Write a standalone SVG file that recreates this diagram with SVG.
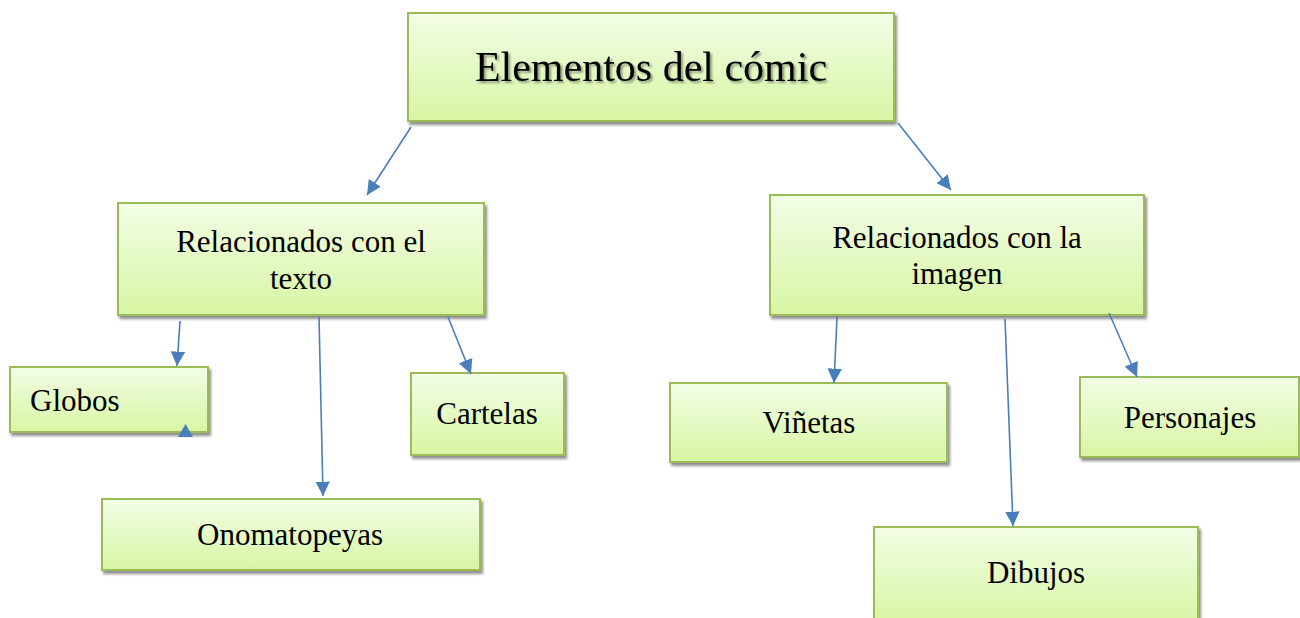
<svg xmlns="http://www.w3.org/2000/svg" width="1300" height="618" viewBox="0 0 1300 618">
<defs>
<linearGradient id="g" x1="0" y1="0" x2="0" y2="1">
<stop offset="0" stop-color="#f3fde6"/>
<stop offset="1" stop-color="#d7f6a3"/>
</linearGradient>
<filter id="sh" x="-5%" y="-5%" width="115%" height="130%">
<feGaussianBlur in="SourceAlpha" stdDeviation="1.5"/>
<feOffset dx="2" dy="3" result="b"/>
<feComponentTransfer><feFuncA type="linear" slope="0.45"/></feComponentTransfer>
<feMerge><feMergeNode/><feMergeNode in="SourceGraphic"/></feMerge>
</filter>
<filter id="ts" x="-5%" y="-20%" width="110%" height="140%">
<feGaussianBlur in="SourceAlpha" stdDeviation="1"/>
<feOffset dx="2" dy="2"/>
<feComponentTransfer><feFuncA type="linear" slope="0.4"/></feComponentTransfer>
<feMerge><feMergeNode/><feMergeNode in="SourceGraphic"/></feMerge>
</filter>
<marker id="ah" viewBox="0 0 10 10" refX="10" refY="5" markerWidth="9" markerHeight="9" markerUnits="strokeWidth" orient="auto">
<path d="M0,0 L10,5 L0,10 z" fill="#4a7ebb"/>
</marker>
</defs>
<style>
.box{fill:url(#g);stroke:#9bbb59;stroke-width:2;filter:url(#sh)}
.t{font-family:"Liberation Serif","Times New Roman","DejaVu Serif",serif;fill:#000;font-size:31px;text-anchor:middle}
.c{stroke:#4a7ebb;stroke-width:1.6;fill:none;marker-end:url(#ah)}
</style>
<rect width="1300" height="618" fill="#fff"/>
<g id="n-root">
<rect class="box" x="408" y="13" width="486" height="108"/>
<text class="t" x="651" y="81" style="font-size:42px" filter="url(#ts)">Elementos del cómic</text>
</g>
<g id="n-texto">
<rect class="box" x="118" y="203" width="366" height="112"/>
<text class="t" x="301" y="252">Relacionados con el</text>
<text class="t" x="301" y="289">texto</text>
</g>
<g id="n-imagen">
<rect class="box" x="770" y="195" width="374" height="120"/>
<text class="t" x="957" y="248">Relacionados con la</text>
<text class="t" x="957" y="284">imagen</text>
</g>
<g id="n-globos">
<rect class="box" x="10" y="367" width="198" height="65"/>
<text class="t" x="30" y="411" style="text-anchor:start">Globos</text>
</g>
<g id="n-cartelas">
<rect class="box" x="411" y="373" width="153" height="82"/>
<text class="t" x="487" y="424">Cartelas</text>
</g>
<g id="n-onomatopeyas">
<rect class="box" x="102" y="499" width="378" height="71"/>
<text class="t" x="290" y="545">Onomatopeyas</text>
</g>
<g id="n-vinetas">
<rect class="box" x="670" y="383" width="277" height="79"/>
<text class="t" x="809" y="433">Viñetas</text>
</g>
<g id="n-personajes">
<rect class="box" x="1080" y="377" width="219" height="80"/>
<text class="t" x="1190" y="428">Personajes</text>
</g>
<g id="n-dibujos">
<rect class="box" x="874" y="527" width="324" height="95"/>
<text class="t" x="1036" y="583">Dibujos</text>
</g>
<g id="connectors">
<line class="c" x1="411" y1="127" x2="367" y2="195"/>
<line class="c" x1="898" y1="123" x2="951" y2="190"/>
<line class="c" x1="180" y1="321" x2="177" y2="366"/>
<line class="c" x1="319" y1="317" x2="323" y2="496"/>
<line class="c" x1="448" y1="317" x2="471" y2="374"/>
<line class="c" x1="837" y1="317" x2="834" y2="383"/>
<line class="c" x1="1005" y1="319" x2="1013" y2="526"/>
<line class="c" x1="1109" y1="313" x2="1137" y2="377"/>
<path d="M178,437 L185.5,424 L193,437 z" fill="#4a7ebb"/>
</g>
</svg>
